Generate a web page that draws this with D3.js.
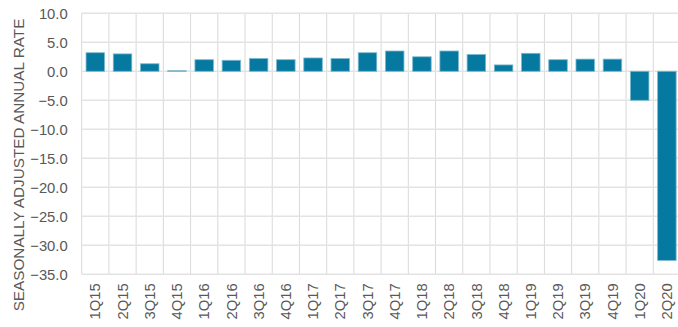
<!DOCTYPE html>
<html>
<head>
<meta charset="utf-8">
<script src="https://cdn.jsdelivr.net/npm/d3@7/dist/d3.min.js"></script>
<style>
  html, body { margin: 0; padding: 0; background: #fff; }
  svg { display: block; font-family: "Liberation Sans", Arial, sans-serif; }
</style>
</head>
<body>
<svg id="chart" width="678" height="327"></svg>
<script>
// Quarterly GDP growth, seasonally adjusted annual rate (%)
const quarters = ["1Q15","2Q15","3Q15","4Q15","1Q16","2Q16","3Q16","4Q16",
                  "1Q17","2Q17","3Q17","4Q17","1Q18","2Q18","3Q18","4Q18",
                  "1Q19","2Q19","3Q19","4Q19","1Q20","2Q20"];
const growth = [3.2, 3.0, 1.3, 0.1, 2.0, 1.9, 2.2, 2.0,
                2.3, 2.2, 3.2, 3.5, 2.5, 3.5, 2.9, 1.1,
                3.1, 2.0, 2.1, 2.1, -5.0, -32.6];
const yTicks = [10, 5, 0, -5, -10, -15, -20, -25, -30, -35];
const yTitle = "SEASONALLY ADJUSTED ANNUAL RATE";

const svg = d3.select("#chart");
const plotLeft = 81.7, plotRight = 680.5, plotTop = 13.3, plotBottom = 274.3;
const textColor = "#595959";
const fontSize = 14.8;

const x = d3.scaleBand().domain(quarters).range([plotLeft, plotRight]).paddingInner(0.32).paddingOuter(0.16);
const xCell = d3.scaleBand().domain(quarters).range([plotLeft, plotRight]);
const y = d3.scaleLinear().domain([-35, 10]).range([plotBottom, plotTop]);

// vertical grid at category boundaries
const g = svg.append("g");
g.selectAll("line.v").data(quarters).join("line")
  .attr("class", "v")
  .attr("x1", d => xCell(d)).attr("x2", d => xCell(d))
  .attr("y1", plotTop).attr("y2", plotBottom)
  .attr("stroke", "#d9d9d9").attr("stroke-width", 1);

// horizontal grid
g.selectAll("line.h").data(yTicks).join("line")
  .attr("class", "h")
  .attr("x1", plotLeft).attr("x2", plotRight)
  .attr("y1", d => y(d)).attr("y2", d => y(d))
  .attr("stroke", "#e3e3e3").attr("stroke-width", 1.6);

// bars
svg.append("g").selectAll("rect").data(quarters).join("rect")
  .attr("x", d => x(d))
  .attr("width", x.bandwidth())
  .attr("y", (d, i) => y(Math.max(0, growth[i])))
  .attr("height", (d, i) => Math.abs(y(growth[i]) - y(0)))
  .attr("fill", "#0679a1")
  .attr("stroke", "#7ab8cf").attr("stroke-width", 0.8);

// y axis labels
const yAxis = d3.axisLeft(y).tickValues(yTicks).tickFormat(d3.format(".1f")).tickSize(0).tickPadding(14);
const ya = svg.append("g").attr("transform", `translate(${plotLeft},0)`).call(yAxis);
ya.select(".domain").remove();
ya.selectAll("text").attr("font-size", fontSize).attr("fill", textColor).attr("font-family", "Liberation Sans, Arial, sans-serif");

// x axis labels (rotated)
const xAxis = d3.axisBottom(x).tickSize(0).tickPadding(0);
const xa = svg.append("g").attr("transform", `translate(0,${plotBottom})`).call(xAxis);
xa.select(".domain").remove();
xa.selectAll("text")
  .attr("font-size", fontSize).attr("fill", textColor).attr("font-family", "Liberation Sans, Arial, sans-serif")
  .attr("transform", "rotate(-90)")
  .attr("text-anchor", "end")
  .attr("dy", "0.35em")
  .attr("x", -9).attr("y", 0);

// axis title
svg.append("text")
  .attr("transform", `translate(23.6,${(13 + 317) / 2}) rotate(-90)`)
  .attr("text-anchor", "middle")
  .attr("font-size", 15.3).attr("fill", textColor)
  .text(yTitle);
</script>
</body>
</html>
